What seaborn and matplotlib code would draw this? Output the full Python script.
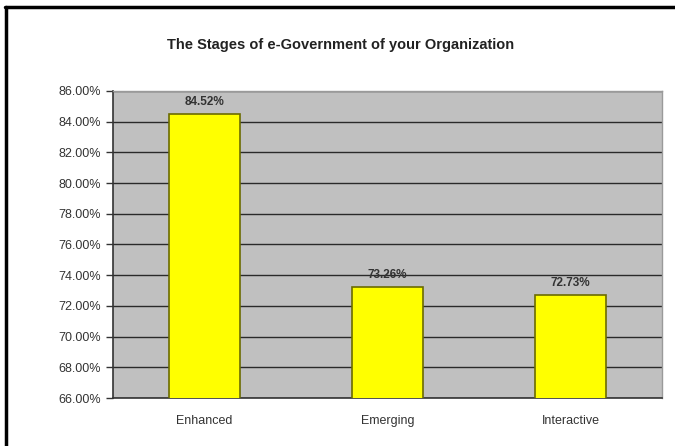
import matplotlib
matplotlib.use('Agg')
import matplotlib.pyplot as plt
import seaborn as sns
import pandas as pd
import numpy as np
from matplotlib.lines import Line2D
from matplotlib.ticker import FixedLocator

# data
stages = ['Enhanced', 'Emerging', 'Interactive']
percent = [84.52, 73.26, 72.73]
value_labels = ['84.52%', '73.26%', '72.73%']

df = pd.DataFrame({'Stage': stages, 'Percent': percent})

sns.set_theme(style='white')
plt.rcParams['font.family'] = ['Liberation Sans', 'DejaVu Sans']

fig = plt.figure(figsize=(6.75, 4.46), dpi=100)
ax = fig.add_axes([0.1674, 0.1076, 0.8133, 0.6884])
ax.set_facecolor('#c0c0c0')

sns.barplot(x='Stage', y='Percent', data=df, color='#ffff00', width=0.39,
            edgecolor='#6b6b00', linewidth=1.2, saturation=1, ax=ax, zorder=3)

ax.set_ylim(66, 86)
yt = np.arange(66, 86.1, 2)
ax.set_yticks(yt)
ax.set_yticklabels([f'{v:.2f}%' for v in yt], fontsize=9, color='#333333')
ax.yaxis.grid(True, color='#2a2a2a', linewidth=1.0, zorder=1)
ax.set_axisbelow(True)
ax.set_xlim(-0.5, 2.5)
ax.tick_params(axis='x', length=0, labelsize=9, labelcolor='#333333', pad=12)
ax.xaxis.set_minor_locator(FixedLocator([0.5, 1.5, 2.5]))
ax.tick_params(axis='x', which='minor', direction='out', length=5, width=1, color='#333333')
ax.tick_params(axis='y', direction='out', length=5, width=1, color='#333333', left=True)
ax.set_xlabel('')
ax.set_ylabel('')

for s in ['left', 'bottom']:
    ax.spines[s].set_color('#333333')
    ax.spines[s].set_linewidth(1.2)
for s in ['top', 'right']:
    ax.spines[s].set_color('#9a9a9a')
    ax.spines[s].set_linewidth(1.0)

for p, lab in zip(ax.patches, value_labels):
    ax.annotate(lab, (p.get_x() + p.get_width() / 2, p.get_height() + 0.35),
                ha='center', va='bottom', fontsize=8.5, fontweight='bold',
                color='#333333')

fig.text(0.505, 0.9, 'The Stages of e-Government of your Organization',
         ha='center', va='center', fontsize=10.5, fontweight='bold', color='#222222')

# frame lines like the screenshot
fig.add_artist(Line2D([0.008, 1.0], [0.985, 0.985], color='black', linewidth=2.5))
fig.add_artist(Line2D([0.0095, 0.0095], [0.0, 0.985], color='black', linewidth=2.5))

plt.savefig('out.png', dpi=100)
plt.close()
